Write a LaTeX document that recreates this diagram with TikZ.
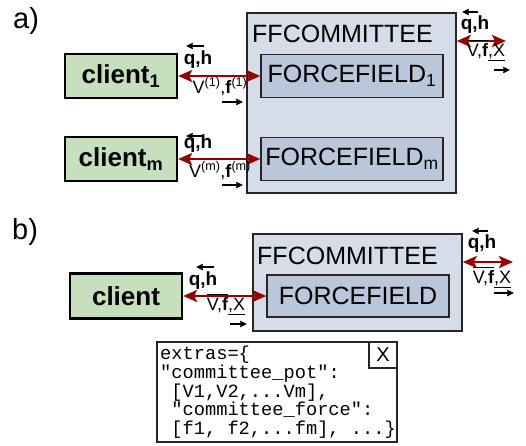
\documentclass[tikz,border=0pt]{standalone}
\usepackage{fontspec}
\setmainfont{Liberation Sans}
\setmonofont{Liberation Mono}
\usetikzlibrary{arrows.meta}
\definecolor{clientgreen}{RGB}{198,224,190}
\definecolor{ffcbg}{RGB}{214,221,233}
\definecolor{ffbg}{RGB}{186,199,218}
\definecolor{linkred}{RGB}{150,0,0}
\newcommand{\fs}[1]{\fontsize{#1}{#1}\selectfont}
\newcommand{\ovl}[1]{\leavevmode\vbox{\hrule height 1.1pt\kern 1.6pt\hbox{#1}}}
\newcommand{\unl}[1]{\leavevmode\vtop{\hbox{#1}\kern 1.4pt\hrule height 1.1pt}}
\newcommand{\vfx}{\ovl{V,\bfseries f}\unl{,X}}
\tikzset{
  clientbox/.style={draw=black, line width=2.2pt, fill=clientgreen, inner sep=0pt,
    minimum width=112pt, minimum height=44pt, font=\fs{26}\bfseries},
  ffcbox/.style={draw=black!85, line width=1.5pt, fill=ffcbg, inner sep=0pt},
  ffbox/.style={draw=black!85, line width=1.5pt, fill=ffbg, inner sep=0pt,
    minimum width=182pt, font=\fs{25}},
  redlink/.style={draw=linkred, line width=2.6pt,
    {Stealth[length=14pt,width=12pt,inset=3pt]}-{Stealth[length=14pt,width=12pt,inset=3pt]}},
  smallarrow/.style={draw=black, line width=1.5pt, -{Stealth[length=7pt,width=6.5pt,inset=1pt]}},
  lbl/.style={inner sep=0pt, font=\fs{18}},
  qhl/.style={inner sep=0pt, anchor=base, font=\fs{19}\bfseries},
  bigtitle/.style={inner sep=0pt, anchor=base west, font=\fs{25}},
  codeline/.style={inner sep=0pt, anchor=base west, font=\ttfamily\fs{18.7}},
}
\begin{document}
\begin{tikzpicture}[x=1pt,y=-1pt]
\useasboundingbox (0,0) rectangle (526,445);

% ---------- a) ----------
\node[inner sep=0pt, anchor=base west, font=\fs{29}] (la) at (13,28) {a)};

\node[ffcbox, minimum width=209pt, minimum height=180pt] (ffca) at (351.5,103) {};
\node[bigtitle] (ffcalbl) at (252,42) {FFCOMMITTEE};
\node[ffbox, minimum height=43pt] (ff1) at (352,76) {FORCEFIELD\textsubscript{1}};
\node[ffbox, minimum height=43pt] (ffm) at (352,159) {FORCEFIELD\textsubscript{m}};

\node[clientbox] (c1) at (121,76) {client\textsubscript{1}};
\node[clientbox] (cm) at (121,159) {client\textsubscript{m}};

\draw[redlink] (c1.east) -- (ff1.west);
\draw[redlink] (cm.east) -- (ffm.west);
\coordinate (ra) at (506,41);
\draw[redlink] (ffca.east |- ra) -- (ra);

% labels a-1
\draw[smallarrow] (204,46) -- (186,46);
\node[qhl] (qh1) at (198,64) {q,h};
\node[lbl, anchor=base] (vf1) at (220,93) {V\textsuperscript{(1)},\textbf{f}\textsuperscript{(1)}};
\draw[smallarrow] (222,102) -- (243,102);

% labels a-m
\draw[smallarrow] (204,136) -- (186,136);
\node[qhl] (qhm) at (198,148) {q,h};
\node[lbl, anchor=base] (vfm) at (220,177) {V\textsuperscript{(m)},\textbf{f}\textsuperscript{(m)}};
\draw[smallarrow] (222,185) -- (243,185);

% labels a-right
\draw[smallarrow] (478,12) -- (462,12);
\node[qhl] (qhr) at (475,29) {q,h};
\node[lbl, anchor=base] (vfr) at (486,56) {\vfx};
\draw[smallarrow] (494,70) -- (510,70);

% ---------- b) ----------
\node[inner sep=0pt, anchor=base west, font=\fs{29}] (lb) at (12,239) {b)};

\node[ffcbox, minimum width=209pt, minimum height=97pt] (ffcb) at (357.5,282.5) {};
\node[bigtitle] (ffcblbl) at (257,264) {FFCOMMITTEE};
\node[ffbox, minimum height=42pt] (ffb) at (358,296) {FORCEFIELD};
\node[clientbox, minimum height=45pt] (cb) at (126,296) {client};

\draw[redlink] (cb.east) -- (ffb.west);
\coordinate (rb) at (513,262);
\draw[redlink] (ffcb.east |- rb) -- (rb);

% labels b-left
\draw[smallarrow] (214,267) -- (196,267);
\node[qhl] (qhb) at (203,285) {q,h};
\node[lbl, anchor=base] (vfb) at (226,310) {\vfx};
\draw[smallarrow] (230,324) -- (247,324);

% labels b-right
\draw[smallarrow] (488,231) -- (472,231);
\node[qhl] (qhbr) at (482,248) {q,h};
\node[lbl, anchor=base] (vfbr) at (492,283) {\vfx};
\draw[smallarrow] (494,293) -- (514,293);

% ---------- extras box ----------
\node[draw=black!85, line width=1.3pt, fill=white, inner sep=0pt,
      minimum width=240pt, minimum height=100pt] (extras) at (277,392) {};
\node[draw=black!85, line width=1.3pt, fill=white, inner sep=0pt,
      minimum width=28pt, minimum height=26pt, font=\fs{20}] (xbox) at (383,355) {X};
\node[codeline] (l1) at (160,359) {extras=\{};
\node[codeline] (l2) at (160,378) {"committee\_pot":};
\node[codeline] (l3) at (171.2,397) {[V1,V2,...Vm],};
\node[codeline] (l4) at (171.2,415.5) {"committee\_force":};
\node[codeline] (l5) at (171.2,434) {[f1, f2,...fm], ...\}};
\end{tikzpicture}
\end{document}
